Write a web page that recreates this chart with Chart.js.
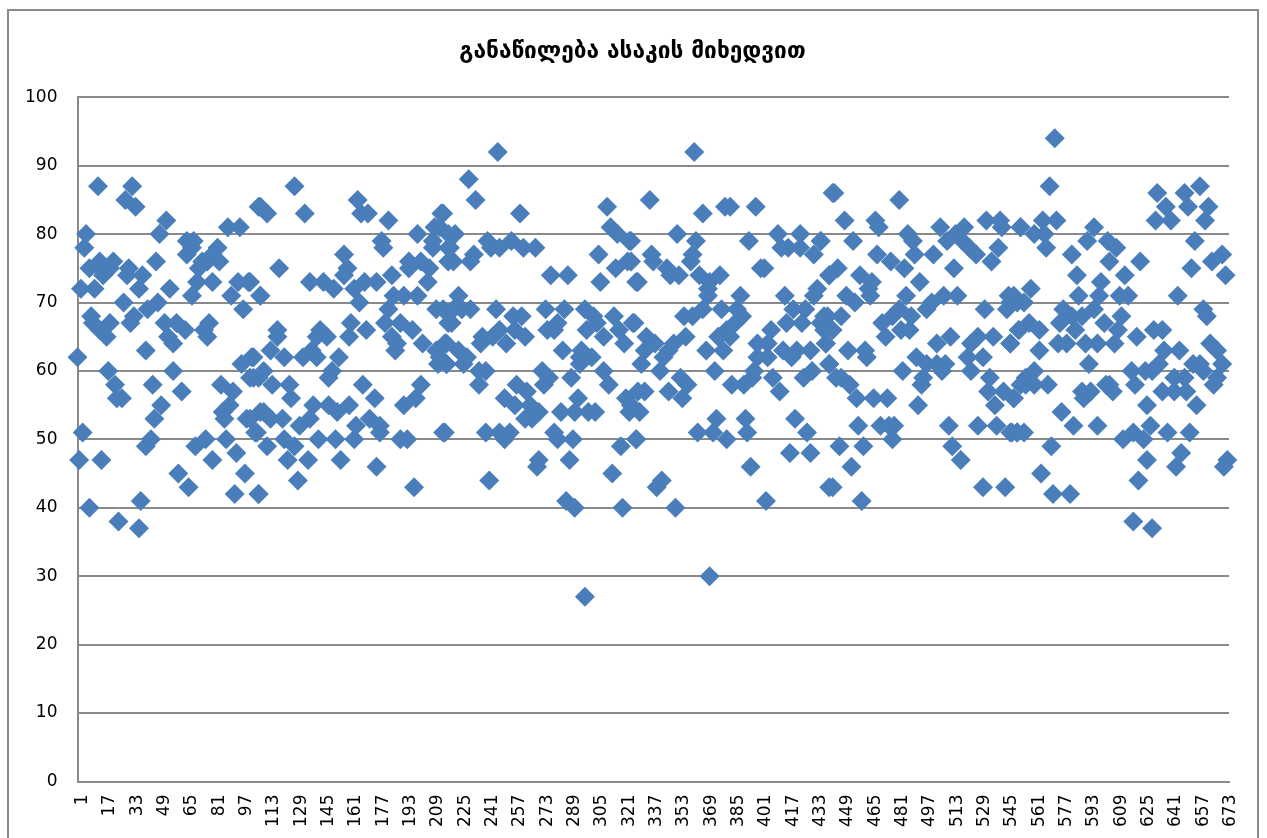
<!DOCTYPE html>
<html lang="ka">
<head>
<meta charset="utf-8">
<title>განაწილება ასაკის მიხედვით</title>
<script src="https://cdn.jsdelivr.net/npm/chart.js@4"></script>
<style>
html, body { margin:0; padding:0; background:#fff; overflow:hidden; width:1267px; height:838px; }
#frame { position:absolute; left:7px; top:9px; width:1252px; height:900px; border:2px solid #8a8a8a; box-sizing:border-box; }
#chart { position:absolute; left:0; top:0; }
</style>
</head>
<body>
<div id="frame"></div>
<canvas id="chart" width="1267" height="838"></canvas>
<script>
const TITLE = 'განაწილება ასაკის მიხედვით';
const CATEGORY_COUNT = 675;
const LABEL_STEP = 16;
const Y_MAX = 100;
const Y_STEP = 10;

// left to right in strips
const respondents = [
  13,33,29,35,53,49,6,5,89,96,
  108,65,69,65,68,83,47,14,22,74,
  77,84,8,31,20,16,14,39,30,72,
  80,3,11,37,55,71,80,68,95,101,
  91,108,28,48,42,98,9,10,20,34,
  32,52,59,64,78,75,14,18,77,54,
  57,41,1,19,57,23,45,62,24,27,
  50,46,85,92,90,86,87,100,108,105,
  97,103,102,107,4,44,41,76,70,88,
  2,15,80,94,60,99,66,93,107,8,
  38,25,37,
  128,107,112,134,165,167,171,183,214,210,
  200,209,179,180,209,218,218,119,157,159,
  157,137,145,151,163,169,176,185,195,202,
  195,207,206,218,186,192,200,166,183,102,
  108,211,218,181,190,197,161,170,160,185,
  188,187,203,217,211,212,217,118,118,114,
  122,133,138,141,143,147,141,154,150,148,
  104,110,104,115,125,126,168,175,202,199,
  192,110,114,121,139,148,153,160,137,131,
  172,164,178,178,102,106,122,142,152,163,
  190,194,215,112,128,124,136,155,176,130,
  198,107,
  247,230,234,260,311,313,317,324,215,213,
  222,219,241,243,248,255,262,269,306,233,
  231,221,316,323,278,288,307,328,224,221,
  226,231,246,256,261,275,286,298,303,315,
  326,318,305,299,309,321,220,215,238,237,
  244,248,252,257,263,276,282,280,285,296,
  302,295,295,216,224,213,229,217,227,236,
  240,236,273,277,274,290,309,312,258,251,
  264,257,266,271,263,267,294,284,292,300,
  304,322,325,324,329,216,240,248,254,251,
  280,282,291,319,328,271,270,289,314,242,
  287,292,320,298,
  362,336,367,380,383,398,443,352,363,325,
  394,411,424,436,413,417,424,432,337,361,
  360,338,325,346,348,353,401,403,365,377,
  329,370,371,370,389,415,441,434,432,367,
  378,356,361,387,390,386,420,427,416,425,
  436,440,327,357,350,334,339,376,383,381,
  407,399,405,439,369,379,333,347,414,422,
  430,331,344,399,405,419,441,342,374,397,
  431,426,354,358,408,384,391,396,333,347,
  355,412,330,325,375,392,421,364,373,381,
  393,428,328,418,430,395,343,340,404,351,
  441,371,
  444,482,450,468,470,506,520,533,541,542,
  553,487,436,455,490,510,515,519,523,527,
  540,469,491,477,502,485,536,514,446,441,
  459,466,494,464,465,451,456,486,501,508,
  498,516,546,545,551,532,482,448,438,489,
  472,478,438,443,483,488,474,512,504,528,
  537,524,547,552,439,452,462,463,492,522,
  531,441,498,504,509,445,448,453,484,496,
  495,507,524,535,534,543,549,553,457,467,
  475,538,493,458,471,476,479,511,528,539,
  548,551,478,447,461,513,518,454,443,531,
  544,460,
  573,570,633,649,658,638,651,663,632,641,
  661,553,566,574,561,567,568,596,592,604,
  609,583,605,623,655,665,671,653,673,586,
  614,600,559,587,599,611,616,645,549,547,
  555,578,596,583,589,612,660,662,558,576,
  602,631,636,552,564,610,585,621,547,575,
  580,591,598,608,664,668,637,646,564,593,
  671,654,658,634,561,618,626,630,660,643,
  649,668,556,620,569,556,561,666,589,594,
  603,605,607,636,643,650,549,590,627,656,
  577,629,584,598,639,652,547,551,555,619,
  613,625,571,647,627,644,674,672,565,622,
  572,582,619,630
];
const ages = [
  87,87,85,84,82,80,80,78,81,81,
  84,79,79,77,78,78,76,76,76,76,
  76,76,75,75,75,74,75,74,74,75,
  77,72,72,72,72,73,73,71,73,73,
  71,71,70,70,69,69,68,67,67,68,
  67,67,67,66,67,66,66,65,65,65,
  64,63,62,60,60,58,58,57,56,56,
  55,53,58,57,55,54,53,53,54,51,
  61,62,59,59,51,50,49,50,49,50,
  47,47,47,48,45,45,43,42,42,40,
  41,38,37,
  87,84,83,83,85,83,83,82,83,81,
  80,79,79,78,78,78,80,75,77,75,
  74,73,73,72,72,73,73,74,76,76,
  75,75,73,76,71,71,71,70,69,73,
  71,69,67,67,67,66,67,66,65,65,
  64,63,64,64,63,61,61,66,65,63,
  62,62,63,65,66,65,62,62,60,59,
  62,60,59,58,58,56,58,56,58,56,
  55,54,53,53,55,55,54,55,53,52,
  53,52,52,51,53,51,50,50,50,50,
  50,50,51,49,49,47,47,47,46,44,
  43,42,
  92,88,85,83,84,81,80,79,83,81,
  80,78,79,78,78,79,78,78,77,77,
  76,76,75,76,74,74,73,73,71,69,
  69,69,69,68,68,69,69,69,68,68,
  67,66,67,66,65,64,67,69,65,64,
  65,66,64,66,65,66,67,66,63,63,
  62,62,61,64,63,62,62,61,61,60,
  60,58,60,59,58,59,60,58,58,56,
  57,55,55,54,53,53,56,54,54,54,
  54,56,55,54,57,51,51,51,51,50,
  51,50,50,49,50,47,46,47,45,44,
  41,40,40,27,
  92,85,83,84,84,84,86,80,79,79,
  79,80,80,79,78,78,78,77,77,77,
  76,76,76,75,74,74,75,75,74,74,
  73,72,73,71,71,71,74,72,71,69,
  69,68,68,69,68,67,69,69,67,67,
  67,68,67,65,64,65,64,65,65,66,
  66,64,64,64,63,63,63,63,63,63,
  63,61,62,62,62,62,61,60,60,60,
  60,59,59,58,59,58,58,59,57,57,
  56,57,54,55,53,53,53,51,51,50,
  51,51,50,48,48,46,44,43,41,40,
  43,30,
  86,85,82,82,81,81,81,82,82,81,
  81,80,79,79,79,79,80,79,78,77,
  78,77,77,76,77,75,76,75,75,74,
  74,73,73,72,71,71,70,71,70,71,
  69,71,71,69,70,69,69,68,68,68,
  67,68,66,66,66,66,65,65,64,65,
  65,64,64,66,64,63,63,62,62,62,
  62,61,61,61,61,59,59,58,60,59,
  58,60,60,59,57,57,56,58,56,56,
  56,55,55,52,52,52,52,52,52,52,
  51,51,50,49,49,49,47,46,43,43,
  43,41,
  94,87,86,86,87,84,84,84,82,82,
  82,81,82,82,80,80,78,81,79,79,
  78,77,76,76,79,76,77,75,74,74,
  74,73,72,71,71,71,71,71,71,70,
  70,69,69,68,68,68,69,68,67,67,
  67,66,66,66,66,66,66,65,64,64,
  64,64,64,64,64,63,63,63,63,61,
  61,61,61,61,60,60,60,60,60,59,
  59,59,59,58,58,58,58,58,57,57,
  58,58,57,57,57,57,56,56,55,55,
  54,52,52,52,51,51,51,51,51,51,
  50,50,49,48,47,46,47,46,45,44,
  42,42,38,37
];

const labels = [];
for (let i = 1; i <= CATEGORY_COUNT; i++) labels.push(String(i));

const points = respondents.map((r, i) => ({ x: String(r), y: ages[i] }));

// title is centred on the whole frame, not on the padded box
const centerTitle = {
  id: 'centerTitle',
  afterLayout(chart) {
    chart.titleBlock.left = 0;
    chart.titleBlock.right = 1265;
  }
};

new Chart(document.getElementById('chart'), {
  type: 'line',
  data: {
    labels: labels,
    datasets: [{
      data: points,
      showLine: false,
      pointStyle: 'rectRot',
      pointRadius: 10,
      pointBorderWidth: 0,
      pointBackgroundColor: '#4a7ebb',
      pointBorderColor: '#4a7ebb'
    }]
  },
  plugins: [centerTitle],
  options: {
    responsive: false,
    animation: false,
    layout: { padding: { left: 0, right: 38, top: 0, bottom: 0 } },
    plugins: {
      legend: { display: false },
      tooltip: { enabled: false },
      title: {
        display: true,
        text: TITLE,
        color: '#000',
        font: { family: '"DejaVu Sans"', size: 22.7, weight: 'bold', lineHeight: 1.2 },
        padding: { top: 38, bottom: 32 }
      }
    },
    scales: {
      x: {
        type: 'category',
        offset: false,
        grid: { display: false, drawTicks: false },
        border: { color: '#8a8a8a', width: 2 },
        afterFit: s => { s.height = 56.5; },
        ticks: {
          autoSkip: false,
          minRotation: 90,
          maxRotation: 90,
          labelOffset: 5,
          padding: 13,
          color: '#000',
          font: { family: '"DejaVu Sans"', size: 17 },
          callback: (v, i) => (i % LABEL_STEP === 0 ? labels[i] : null)
        }
      },
      y: {
        min: 0,
        max: Y_MAX,
        grid: { color: '#8a8a8a', lineWidth: 2, drawTicks: false },
        border: { color: '#8a8a8a', width: 2 },
        afterFit: s => { s.width = 77.5; },
        ticks: {
          stepSize: Y_STEP,
          padding: 20,
          color: '#000',
          font: { family: '"DejaVu Sans"', size: 17 }
        }
      }
    }
  }
});
</script>
</body>
</html>
